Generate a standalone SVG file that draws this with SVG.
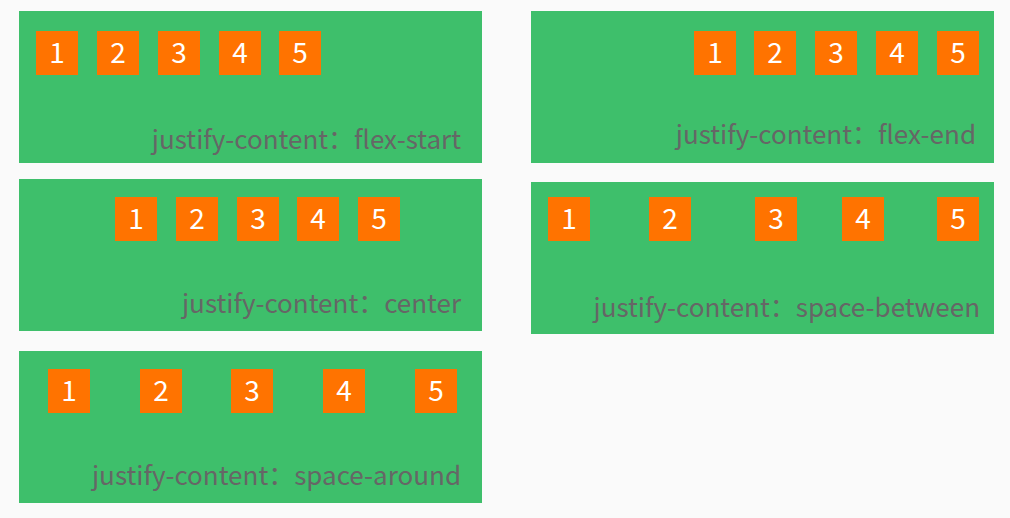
<svg xmlns="http://www.w3.org/2000/svg" width="1010" height="518" viewBox="0 0 1010 518">
<style>
.p{fill:#3ebf6b}
.b{fill:#ff7300}
.n{fill:#fff;font:28px "Noto Sans CJK SC","Noto Sans",sans-serif;text-anchor:middle}
.l{fill:#666;font:26px "Noto Sans CJK SC","Noto Sans",sans-serif;text-anchor:end}
</style>
<rect width="1010" height="518" fill="#fafafa"/>
<defs><g id="sq"><rect class="b" width="42" height="44"/></g></defs>
<g id="flex-start"><rect class="p" x="19" y="11" width="463" height="152"/>
<rect class="b" x="36" y="31" width="42" height="44"/><text class="n" x="57" y="63">1</text>
<rect class="b" x="97" y="31" width="42" height="44"/><text class="n" x="118" y="63">2</text>
<rect class="b" x="158" y="31" width="42" height="44"/><text class="n" x="179" y="63">3</text>
<rect class="b" x="219" y="31" width="42" height="44"/><text class="n" x="240" y="63">4</text>
<rect class="b" x="279" y="31" width="42" height="44"/><text class="n" x="300" y="63">5</text>
<text class="l" x="461" y="149">justify-content：flex-start</text></g>
<g id="flex-end"><rect class="p" x="531" y="11" width="463" height="152"/>
<rect class="b" x="694" y="31" width="42" height="44"/><text class="n" x="715" y="63">1</text>
<rect class="b" x="754" y="31" width="42" height="44"/><text class="n" x="775" y="63">2</text>
<rect class="b" x="815" y="31" width="42" height="44"/><text class="n" x="836" y="63">3</text>
<rect class="b" x="876" y="31" width="42" height="44"/><text class="n" x="897" y="63">4</text>
<rect class="b" x="937" y="31" width="42" height="44"/><text class="n" x="958" y="63">5</text>
<text class="l" x="976" y="144">justify-content：flex-end</text></g>
<g id="center"><rect class="p" x="19" y="179" width="463" height="152"/>
<rect class="b" x="115" y="197" width="42" height="44"/><text class="n" x="136" y="229">1</text>
<rect class="b" x="176" y="197" width="42" height="44"/><text class="n" x="197" y="229">2</text>
<rect class="b" x="237" y="197" width="42" height="44"/><text class="n" x="258" y="229">3</text>
<rect class="b" x="297" y="197" width="42" height="44"/><text class="n" x="318" y="229">4</text>
<rect class="b" x="358" y="197" width="42" height="44"/><text class="n" x="379" y="229">5</text>
<text class="l" x="461" y="313">justify-content：center</text></g>
<g id="space-between"><rect class="p" x="531" y="182" width="463" height="152"/>
<rect class="b" x="548" y="197" width="42" height="44"/><text class="n" x="569" y="229">1</text>
<rect class="b" x="649" y="197" width="42" height="44"/><text class="n" x="670" y="229">2</text>
<rect class="b" x="755" y="197" width="42" height="44"/><text class="n" x="776" y="229">3</text>
<rect class="b" x="842" y="197" width="42" height="44"/><text class="n" x="863" y="229">4</text>
<rect class="b" x="937" y="197" width="42" height="44"/><text class="n" x="958" y="229">5</text>
<text class="l" x="980" y="317">justify-content：space-between</text></g>
<g id="space-around"><rect class="p" x="19" y="351" width="463" height="152"/>
<rect class="b" x="48" y="369" width="42" height="44"/><text class="n" x="69" y="401">1</text>
<rect class="b" x="140" y="369" width="42" height="44"/><text class="n" x="161" y="401">2</text>
<rect class="b" x="231" y="369" width="42" height="44"/><text class="n" x="252" y="401">3</text>
<rect class="b" x="323" y="369" width="42" height="44"/><text class="n" x="344" y="401">4</text>
<rect class="b" x="415" y="369" width="42" height="44"/><text class="n" x="436" y="401">5</text>
<text class="l" x="461" y="485">justify-content：space-around</text></g>
<g id="connectors"/>
</svg>
